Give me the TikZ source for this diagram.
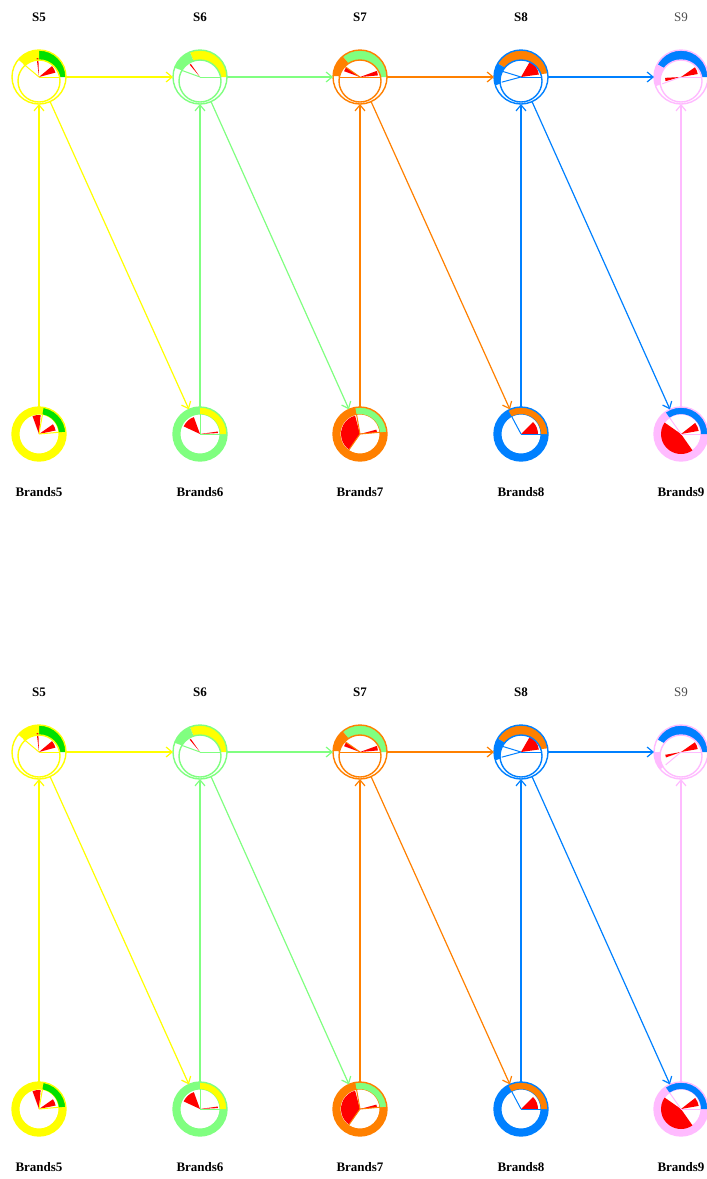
\documentclass[tikz,border=0pt]{standalone}
\usepackage{fontspec}
\setmainfont{Liberation Serif}
\usetikzlibrary{arrows.meta,calc}
\definecolor{cyel}{RGB}{255,255,0}
\definecolor{cgrn}{RGB}{128,255,128}
\definecolor{corg}{RGB}{255,128,0}
\definecolor{cblu}{RGB}{0,128,255}
\definecolor{cpnk}{RGB}{255,187,255}
\definecolor{cgreen}{RGB}{0,224,0}
\definecolor{cred}{RGB}{255,0,0}
\newcommand{\band}[4]{\fill[#4] ($(#1)+(#2:27pt)$) arc[start angle=#2, end angle=#3, radius=27pt] -- ($(#1)+(#3:20pt)$) arc[start angle=#3, end angle=#2, radius=20pt] -- cycle;}
\newcommand{\sband}[4]{\fill[#4] (#1.center) -- ++(#2:27pt) arc[start angle=#2, end angle=#3, radius=27pt] -- cycle;}
\newcommand{\hole}[1]{\fill[white] ($(#1)+(0,-4)$) circle[radius=21pt];}
\newcommand{\slice}[4]{\fill[cred] (#1.center) -- ++(#2:#4pt) arc[start angle=#2, end angle=#3, radius=#4pt] -- cycle;}
\newcommand{\spoke}[3]{\draw[#3, line width=1pt] (#1.center) -- ++(#2:20pt);}
\newcommand{\ring}[2]{\fill[#2, even odd rule] (#1.center) circle[radius=27pt] circle[radius=19.5pt];}
\newcommand{\rims}[2]{\draw[#2, line width=1.4pt] (#1.center) circle[radius=27pt] ($(#1)+(0,-4)$) circle[radius=21pt];}
\newcommand{\rim}[2]{\draw[#2, line width=1.4pt] (#1.center) circle[radius=27pt];}
\tikzset{
  glyph/.style={circle, minimum size=54pt, inner sep=0pt, outer sep=0pt},
  lbl/.style={font=\bfseries\fontsize{13}{15}\selectfont},
  edge/.style={-{Straight Barb[length=6pt,width=10pt]}, line width=1.2pt}
}
\begin{document}
\begin{tikzpicture}[x=1pt, y=1pt]
  \useasboundingbox (0,0) rectangle (707,-1179);

  \node[lbl] (ls5a) at (39,-17) {S5};
  \node[lbl] (ls6a) at (200,-17) {S6};
  \node[lbl] (ls7a) at (360,-17) {S7};
  \node[lbl] (ls8a) at (521,-17) {S8};
  \node[lbl, font=\fontsize{13}{15}\selectfont, text=black!70] (ls9a) at (681,-17) {S9};
  \node[lbl] (lb5a) at (39,-492) {Brands5};
  \node[lbl] (lb6a) at (200,-492) {Brands6};
  \node[lbl] (lb7a) at (360,-492) {Brands7};
  \node[lbl] (lb8a) at (521,-492) {Brands8};
  \node[lbl] (lb9a) at (681,-492) {Brands9};

  \node[glyph] (s5a) at (39,-77) {};
  \node[glyph] (s6a) at (200,-77) {};
  \node[glyph] (s7a) at (360,-77) {};
  \node[glyph] (s8a) at (521,-77) {};
  \node[glyph] (s9a) at (681,-77) {};
  \node[glyph] (b5a) at (39,-434) {};
  \node[glyph] (b6a) at (200,-434) {};
  \node[glyph] (b7a) at (360,-434) {};
  \node[glyph] (b8a) at (521,-434) {};
  \node[glyph] (b9a) at (681,-434) {};

  \sband{s5a}{0}{90}{cgreen} \sband{s5a}{90}{140}{cyel} \hole{s5a}
  \slice{s5a}{15}{40}{17} \slice{s5a}{92}{97}{19}
  \spoke{s5a}{0}{cyel} \spoke{s5a}{140}{cyel} \rims{s5a}{cyel}
  \sband{s6a}{0}{112}{cyel} \sband{s6a}{112}{160}{cgrn} \hole{s6a}
  \slice{s6a}{125}{130}{16}
  \spoke{s6a}{0}{cgrn} \spoke{s6a}{160}{cgrn} \rims{s6a}{cgrn}
  \sband{s7a}{0}{130}{cgrn} \sband{s7a}{130}{178}{corg} \hole{s7a}
  \slice{s7a}{145}{160}{17} \slice{s7a}{5}{20}{18}
  \spoke{s7a}{0}{corg} \spoke{s7a}{180}{corg} \spoke{s7a}{145}{corg} \rims{s7a}{corg}
  \sband{s8a}{8}{150}{corg} \sband{s8a}{150}{198}{cblu} \hole{s8a}
  \slice{s8a}{8}{60}{18}
  \spoke{s8a}{0}{cblu} \spoke{s8a}{163}{cblu} \spoke{s8a}{195}{cblu} \rims{s8a}{cblu}
  \sband{s9a}{0}{152}{cblu} \sband{s9a}{152}{200}{cpnk} \hole{s9a}
  \slice{s9a}{10}{35}{17} \slice{s9a}{183}{195}{16}
  \spoke{s9a}{0}{cpnk} \spoke{s9a}{200}{cpnk} \rims{s9a}{cpnk}

  \ring{b5a}{cyel} \band{b5a}{5}{80}{cgreen}
  \slice{b5a}{12}{35}{17} \slice{b5a}{85}{110}{19}
  \spoke{b5a}{5}{cyel} \spoke{b5a}{80}{cyel} \rim{b5a}{cyel}
  \ring{b6a}{cgrn} \band{b6a}{0}{90}{cyel}
  \slice{b6a}{110}{155}{18} \slice{b6a}{3}{8}{18}
  \spoke{b6a}{0}{cgrn} \spoke{b6a}{90}{cgrn} \rim{b6a}{cgrn}
  \ring{b7a}{corg} \band{b7a}{5}{100}{cgrn}
  \slice{b7a}{105}{235}{19} \slice{b7a}{5}{15}{17}
  \spoke{b7a}{5}{corg} \spoke{b7a}{100}{corg} \spoke{b7a}{235}{corg} \rim{b7a}{corg}
  \ring{b8a}{cblu} \band{b8a}{0}{118}{corg}
  \slice{b8a}{0}{45}{17}
  \spoke{b8a}{0}{cblu} \spoke{b8a}{118}{cblu} \rim{b8a}{cblu}
  \ring{b9a}{cpnk} \band{b9a}{0}{125}{cblu}
  \slice{b9a}{145}{305}{20} \slice{b9a}{10}{38}{18}
  \spoke{b9a}{0}{cpnk} \spoke{b9a}{125}{cpnk} \rim{b9a}{cpnk}

  \draw[edge, cyel] (s5a) -- (s6a);
  \draw[edge, cgrn] (s6a) -- (s7a);
  \draw[edge, corg] (s7a) -- (s8a);
  \draw[edge, cblu] (s8a) -- (s9a);
  \draw[edge, cyel] (b5a) -- (s5a);
  \draw[edge, cgrn] (b6a) -- (s6a);
  \draw[edge, corg] (b7a) -- (s7a);
  \draw[edge, cblu] (b8a) -- (s8a);
  \draw[edge, cpnk] (b9a) -- (s9a);
  \draw[edge, cyel] (s5a) -- (b6a);
  \draw[edge, cgrn] (s6a) -- (b7a);
  \draw[edge, corg] (s7a) -- (b8a);
  \draw[edge, cblu] (s8a) -- (b9a);

  \node[lbl] (ls5b) at (39,-692) {S5};
  \node[lbl] (ls6b) at (200,-692) {S6};
  \node[lbl] (ls7b) at (360,-692) {S7};
  \node[lbl] (ls8b) at (521,-692) {S8};
  \node[lbl, font=\fontsize{13}{15}\selectfont, text=black!70] (ls9b) at (681,-692) {S9};
  \node[lbl] (lb5b) at (39,-1167) {Brands5};
  \node[lbl] (lb6b) at (200,-1167) {Brands6};
  \node[lbl] (lb7b) at (360,-1167) {Brands7};
  \node[lbl] (lb8b) at (521,-1167) {Brands8};
  \node[lbl] (lb9b) at (681,-1167) {Brands9};

  \node[glyph] (s5b) at (39,-752) {};
  \node[glyph] (s6b) at (200,-752) {};
  \node[glyph] (s7b) at (360,-752) {};
  \node[glyph] (s8b) at (521,-752) {};
  \node[glyph] (s9b) at (681,-752) {};
  \node[glyph] (b5b) at (39,-1109) {};
  \node[glyph] (b6b) at (200,-1109) {};
  \node[glyph] (b7b) at (360,-1109) {};
  \node[glyph] (b8b) at (521,-1109) {};
  \node[glyph] (b9b) at (681,-1109) {};

  \sband{s5b}{0}{90}{cgreen} \sband{s5b}{90}{140}{cyel} \hole{s5b}
  \slice{s5b}{15}{40}{17} \slice{s5b}{92}{97}{19}
  \spoke{s5b}{0}{cyel} \spoke{s5b}{140}{cyel} \rims{s5b}{cyel}
  \sband{s6b}{0}{112}{cyel} \sband{s6b}{112}{160}{cgrn} \hole{s6b}
  \slice{s6b}{125}{130}{16}
  \spoke{s6b}{0}{cgrn} \spoke{s6b}{160}{cgrn} \rims{s6b}{cgrn}
  \sband{s7b}{0}{130}{cgrn} \sband{s7b}{130}{178}{corg} \hole{s7b}
  \slice{s7b}{145}{160}{17} \slice{s7b}{5}{20}{18}
  \spoke{s7b}{0}{corg} \spoke{s7b}{180}{corg} \spoke{s7b}{145}{corg} \rims{s7b}{corg}
  \sband{s8b}{8}{150}{corg} \sband{s8b}{150}{198}{cblu} \hole{s8b}
  \slice{s8b}{8}{60}{18}
  \spoke{s8b}{0}{cblu} \spoke{s8b}{163}{cblu} \spoke{s8b}{195}{cblu} \rims{s8b}{cblu}
  \sband{s9b}{0}{152}{cblu} \sband{s9b}{180}{220}{cpnk} \hole{s9b}
  \slice{s9b}{10}{35}{17} \slice{s9b}{190}{200}{16}
  \spoke{s9b}{0}{cpnk} \spoke{s9b}{220}{cpnk} \rims{s9b}{cpnk}

  \ring{b5b}{cyel} \band{b5b}{5}{80}{cgreen}
  \slice{b5b}{12}{35}{17} \slice{b5b}{85}{110}{19}
  \spoke{b5b}{5}{cyel} \spoke{b5b}{80}{cyel} \rim{b5b}{cyel}
  \ring{b6b}{cgrn} \band{b6b}{0}{90}{cyel}
  \slice{b6b}{110}{155}{18} \slice{b6b}{3}{8}{18}
  \spoke{b6b}{0}{cgrn} \spoke{b6b}{90}{cgrn} \rim{b6b}{cgrn}
  \ring{b7b}{corg} \band{b7b}{5}{100}{cgrn}
  \slice{b7b}{105}{235}{19} \slice{b7b}{5}{15}{17}
  \spoke{b7b}{5}{corg} \spoke{b7b}{100}{corg} \spoke{b7b}{235}{corg} \rim{b7b}{corg}
  \ring{b8b}{cblu} \band{b8b}{0}{118}{corg}
  \slice{b8b}{0}{45}{17}
  \spoke{b8b}{0}{cblu} \spoke{b8b}{118}{cblu} \rim{b8b}{cblu}
  \ring{b9b}{cpnk} \band{b9b}{0}{125}{cblu}
  \slice{b9b}{145}{305}{20} \slice{b9b}{10}{38}{18}
  \spoke{b9b}{0}{cpnk} \spoke{b9b}{125}{cpnk} \rim{b9b}{cpnk}

  \draw[edge, cyel] (s5b) -- (s6b);
  \draw[edge, cgrn] (s6b) -- (s7b);
  \draw[edge, corg] (s7b) -- (s8b);
  \draw[edge, cblu] (s8b) -- (s9b);
  \draw[edge, cyel] (b5b) -- (s5b);
  \draw[edge, cgrn] (b6b) -- (s6b);
  \draw[edge, corg] (b7b) -- (s7b);
  \draw[edge, cblu] (b8b) -- (s8b);
  \draw[edge, cpnk] (b9b) -- (s9b);
  \draw[edge, cyel] (s5b) -- (b6b);
  \draw[edge, cgrn] (s6b) -- (b7b);
  \draw[edge, corg] (s7b) -- (b8b);
  \draw[edge, cblu] (s8b) -- (b9b);
\end{tikzpicture}
\end{document}
